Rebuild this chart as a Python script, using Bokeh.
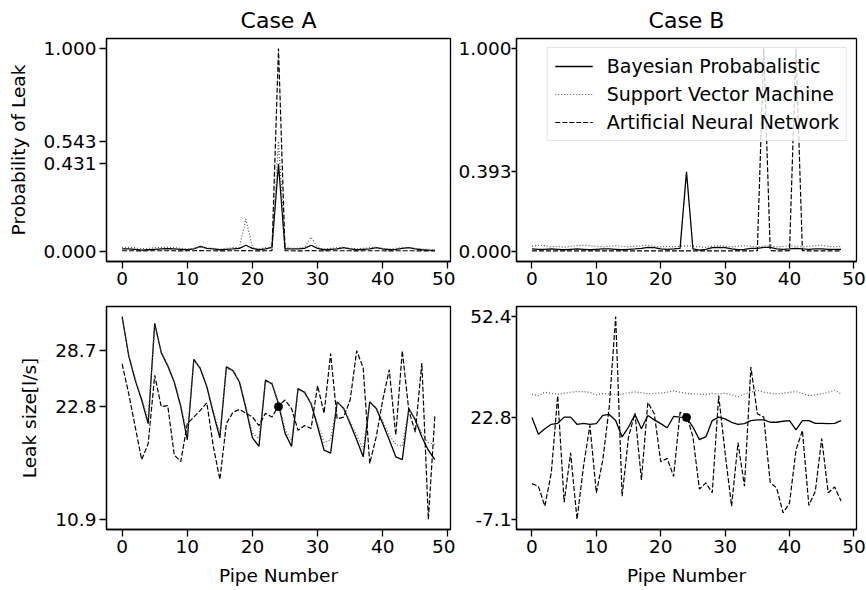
from bokeh.plotting import figure
from bokeh.layouts import column, row
from bokeh.models import Range1d, FixedTicker, PrintfTickFormatter
from bokeh.embed import file_html
from bokeh.resources import INLINE

pipe = list(range(49))

# Case A: probability of leak
prob_a_bayes = [0.012, 0.012, 0.010, 0.006, 0.008, 0.010, 0.012, 0.014, 0.012, 0.010,
                0.008, 0.012, 0.025, 0.015, 0.012, 0.008, 0.010, 0.012, 0.015, 0.030,
                0.015, 0.008, 0.012, 0.020, 0.431, 0.012, 0.012, 0.012, 0.015, 0.030,
                0.015, 0.008, 0.010, 0.012, 0.018, 0.012, 0.008, 0.010, 0.012, 0.018,
                0.012, 0.008, 0.010, 0.015, 0.018, 0.012, 0.008, 0.006, 0.005]
prob_a_svm = [0.020, 0.020, 0.018, 0.012, 0.015, 0.018, 0.020, 0.020, 0.018, 0.015,
              0.012, 0.015, 0.020, 0.018, 0.015, 0.010, 0.015, 0.018, 0.020, 0.160,
              0.020, 0.012, 0.018, 0.020, 0.543, 0.020, 0.015, 0.015, 0.020, 0.070,
              0.020, 0.012, 0.015, 0.018, 0.020, 0.015, 0.012, 0.015, 0.018, 0.020,
              0.015, 0.012, 0.015, 0.018, 0.020, 0.015, 0.012, 0.010, 0.008]
prob_a_ann = [0.003, 0.003, 0.003, 0.002, 0.003, 0.003, 0.003, 0.003, 0.003, 0.002,
              0.003, 0.003, 0.004, 0.003, 0.003, 0.002, 0.003, 0.003, 0.003, 0.004,
              0.003, 0.002, 0.003, 0.003, 1.000, 0.003, 0.003, 0.002, 0.003, 0.004,
              0.003, 0.002, 0.003, 0.003, 0.003, 0.003, 0.002, 0.003, 0.003, 0.003,
              0.003, 0.002, 0.003, 0.003, 0.003, 0.003, 0.002, 0.002, 0.002]

# Case B: probability of leak
prob_b_bayes = [0.012, 0.010, 0.010, 0.012, 0.010, 0.008, 0.010, 0.012, 0.010, 0.008,
                0.010, 0.012, 0.012, 0.010, 0.008, 0.010, 0.012, 0.015, 0.020, 0.018,
                0.012, 0.010, 0.012, 0.015, 0.393, 0.012, 0.006, 0.010, 0.018, 0.020,
                0.018, 0.012, 0.008, 0.010, 0.015, 0.015, 0.020, 0.020, 0.012, 0.010,
                0.012, 0.015, 0.012, 0.010, 0.012, 0.012, 0.010, 0.010, 0.010]
prob_b_svm = [0.025, 0.030, 0.028, 0.022, 0.025, 0.020, 0.025, 0.028, 0.030, 0.028,
              0.025, 0.022, 0.025, 0.028, 0.025, 0.022, 0.025, 0.028, 0.030, 0.025,
              0.022, 0.025, 0.022, 0.025, 0.028, 0.025, 0.022, 0.020, 0.025, 0.028,
              0.025, 0.022, 0.025, 0.028, 0.025, 0.022, 0.025, 0.028, 0.022, 0.025,
              0.028, 0.025, 0.022, 0.025, 0.028, 0.030, 0.025, 0.022, 0.025]
prob_b_ann = [0.002, 0.002, 0.002, 0.002, 0.002, 0.002, 0.002, 0.002, 0.002, 0.002,
              0.002, 0.002, 0.002, 0.002, 0.002, 0.002, 0.002, 0.002, 0.002, 0.002,
              0.002, 0.002, 0.002, 0.002, 0.002, 0.002, 0.002, 0.002, 0.002, 0.002,
              0.002, 0.002, 0.002, 0.002, 0.002, 0.004, 1.000, 0.004, 0.002, 0.002,
              0.004, 1.000, 0.004, 0.002, 0.002, 0.002, 0.002, 0.002, 0.002]

# Case A: leak size [l/s]
size_a_bayes = [32.3, 28.2, 25.6, 23.5, 21.0, 31.6, 28.5, 27.1, 25.4, 22.8,
                19.3, 27.8, 26.8, 24.9, 22.1, 19.5, 27.0, 26.6, 25.4, 22.6,
                19.5, 18.6, 25.6, 25.2, 23.1, 20.0, 18.6, 24.7, 24.3, 23.1,
                20.7, 18.2, 17.9, 23.3, 22.6, 21.0, 19.3, 17.5, 23.3, 22.6,
                21.0, 19.3, 17.5, 17.2, 22.6, 21.4, 19.6, 18.2, 17.2]
size_a_svm = [32.1, 28.3, 25.8, 23.6, 21.5, 31.4, 28.6, 27.2, 25.5, 23.0,
              19.8, 27.6, 26.9, 25.0, 22.3, 20.0, 26.8, 26.7, 25.5, 22.8,
              20.0, 19.4, 25.4, 25.3, 23.2, 20.4, 19.2, 24.6, 24.4, 23.2,
              21.0, 19.0, 19.3, 23.2, 22.7, 21.2, 19.8, 18.3, 23.2, 22.7,
              21.3, 19.8, 18.8, 18.6, 22.5, 21.5, 20.0, 19.0, 18.8]
size_a_ann = [27.3, 24.2, 20.7, 17.2, 18.9, 26.1, 22.8, 22.9, 17.7, 17.0,
              21.0, 21.7, 22.4, 23.2, 18.6, 15.1, 21.0, 22.2, 22.5, 22.1,
              21.7, 20.8, 22.1, 21.7, 22.9, 23.5, 22.6, 20.3, 20.8, 20.5,
              25.0, 22.1, 28.4, 21.5, 21.7, 23.5, 28.7, 26.9, 16.8, 19.6,
              23.5, 26.7, 19.8, 28.7, 22.4, 20.1, 27.4, 10.9, 21.8]

# Case B: leak size [l/s]
size_b_bayes = [22.8, 17.9, 19.5, 20.8, 21.1, 22.9, 22.9, 20.8, 21.1, 20.8,
                21.0, 23.4, 23.7, 21.9, 17.1, 20.0, 23.7, 19.5, 23.4, 22.1,
                21.0, 19.8, 23.1, 22.9, 22.8, 20.0, 16.3, 17.1, 21.9, 22.9,
                22.4, 21.4, 20.8, 21.0, 21.9, 22.1, 22.1, 21.4, 21.4, 21.7,
                21.9, 19.2, 21.9, 21.9, 21.1, 21.1, 21.0, 21.1, 21.9]
size_b_svm = [29.6, 29.2, 30.2, 29.9, 29.6, 29.9, 30.2, 30.4, 30.4, 30.2,
              29.4, 29.9, 29.7, 29.5, 29.7, 30.1, 30.3, 30.1, 29.7, 29.9,
              30.0, 30.2, 30.6, 30.2, 29.9, 29.7, 29.7, 29.5, 29.9, 29.7,
              29.9, 29.5, 28.9, 29.7, 30.2, 30.8, 30.2, 29.9, 29.7, 29.9,
              30.2, 30.4, 29.9, 29.2, 29.5, 29.7, 30.2, 30.8, 29.7]
size_b_ann = [3.4, 2.6, -3.2, 6.5, 29.2, -2.1, 12.4, -7.1, 8.4, 20.5,
              0.7, 10.3, 25.8, 52.4, -0.3, 17.1, 24.1, 4.5, 27.2, 23.9,
              9.8, 10.8, 5.5, 24.3, 23.6, 17.1, 1.8, 3.6, 0.7, 29.2,
              12.3, -3.2, 15.4, 2.6, 37.6, 23.9, 22.9, 3.7, 2.1, -5.2,
              -2.3, 13.2, 19.0, -3.0, 1.1, 16.6, 0.7, 2.4, -1.7]

true_leak_pipe = 24
true_leak_size_a = 22.8
true_leak_size_b = 22.8

ticks_prob_a = [0.0, 0.431, 0.543, 1.0]
ticks_prob_b = [0.0, 0.393, 1.0]
ticks_size_a = [10.9, 22.8, 28.7]
ticks_size_b = [-7.1, 22.8, 52.4]
ticks_pipe = [0, 10, 20, 30, 40, 50]

series_names = ["Bayesian Probabalistic", "Support Vector Machine", "Artificial Neural Network"]

FONT = "DejaVu Sans"
FS = "18.5px"


def auto_range(*arrays):
    lo = min(min(a) for a in arrays)
    hi = max(max(a) for a in arrays)
    m = 0.05 * (hi - lo)
    return Range1d(lo - m, hi + m)


def style_axis(ax, tick_out=7, standoff=3):
    ax.major_tick_out = tick_out
    ax.major_tick_in = 0
    ax.minor_tick_out = 0
    ax.minor_tick_in = 0
    ax.major_tick_line_width = 1.3
    ax.major_tick_line_color = "black"
    ax.axis_line_width = 1.3
    ax.axis_line_color = "black"
    ax.major_label_text_font = FONT
    ax.major_label_text_font_size = FS
    ax.major_label_text_color = "black"
    ax.major_label_standoff = standoff
    ax.axis_label_text_font = FONT
    ax.axis_label_text_font_size = FS
    ax.axis_label_text_font_style = "normal"
    ax.axis_label_text_color = "black"


def make_fig(width, height, bl, br, bt, bb, yrange, yticks, yfmt,
             title=None, ylabel=None, xlabel=None, right_col=False):
    p = figure(width=width, height=height, output_backend="svg", toolbar_location=None,
               x_range=Range1d(-2.4, 50.4), y_range=yrange,
               min_border_left=bl, min_border_right=br, min_border_top=bt,
               min_border_bottom=bb)
    p.xgrid.visible = False
    p.ygrid.visible = False
    p.outline_line_color = "black"
    p.outline_line_width = 1.3
    p.outline_line_alpha = 1.0
    p.background_fill_color = "white"
    p.border_fill_color = "white"
    p.xaxis.ticker = FixedTicker(ticks=ticks_pipe)
    p.yaxis.ticker = FixedTicker(ticks=yticks)
    p.yaxis.formatter = PrintfTickFormatter(format=yfmt)
    style_axis(p.xaxis[0])
    if right_col:
        style_axis(p.yaxis[0], tick_out=5, standoff=0)
    else:
        style_axis(p.yaxis[0])
    if title:
        p.title.text = title
        p.title.align = "center"
        p.title.text_font = FONT
        p.title.text_font_size = "22px"
        p.title.text_font_style = "normal"
        p.title.text_color = "black"
        p.title.standoff = 11
    if ylabel:
        p.yaxis.axis_label = ylabel
        p.yaxis.axis_label_standoff = 12
    if xlabel:
        p.xaxis.axis_label = xlabel
        p.xaxis.axis_label_standoff = 9
    return p


def add_lines(p, bayes, svm, ann, legend=False):
    kw = [{}, {}, {}]
    if legend:
        kw = [dict(legend_label=n) for n in series_names]
    p.line(pipe, bayes, line_color="black", line_width=1.3, **kw[0])
    p.line(pipe, svm, line_color="#555555", line_width=1.2, line_dash="1 2", **kw[1])
    p.line(pipe, ann, line_color="black", line_width=1.2, line_dash="5 2", **kw[2])


p1 = make_fig(455, 293, 106, 5, 37, 32, Range1d(-0.05, 1.05), ticks_prob_a, "%.3f",
              title="Case A", ylabel="Probability of Leak")
add_lines(p1, prob_a_bayes, prob_a_svm, prob_a_ann)

p2 = make_fig(411, 293, 61, 10, 37, 32, Range1d(-0.05, 1.05), ticks_prob_b, "%.3f",
              title="Case B", right_col=True)
add_lines(p2, prob_b_bayes, prob_b_svm, prob_b_ann, legend=True)
lg = p2.legend[0]
lg.location = "top_right"
lg.margin = 9
lg.padding = 7
lg.spacing = 6
lg.glyph_width = 38
lg.glyph_height = 22
lg.label_height = 22
lg.label_standoff = 14
lg.label_text_font = FONT
lg.label_text_font_size = "19px"
lg.label_text_color = "black"
lg.border_line_color = "#cccccc"
lg.border_line_width = 1
lg.background_fill_alpha = 0.8

p3 = make_fig(455, 297, 106, 5, 13, 61, auto_range(size_a_bayes, size_a_svm, size_a_ann),
              ticks_size_a, "%.1f", ylabel="Leak size[l/s]", xlabel="Pipe Number")
add_lines(p3, size_a_bayes, size_a_svm, size_a_ann)
p3.scatter([true_leak_pipe], [true_leak_size_a], size=8, color="black")

p4 = make_fig(411, 297, 61, 10, 13, 61, auto_range(size_b_bayes, size_b_svm, size_b_ann),
              ticks_size_b, "%.1f", xlabel="Pipe Number", right_col=True)
add_lines(p4, size_b_bayes, size_b_svm, size_b_ann)
p4.scatter([true_leak_pipe], [true_leak_size_b], size=8, color="black")

layout = column(row(p1, p2), row(p3, p4))
open("out.html", "w").write(file_html(layout, INLINE))
